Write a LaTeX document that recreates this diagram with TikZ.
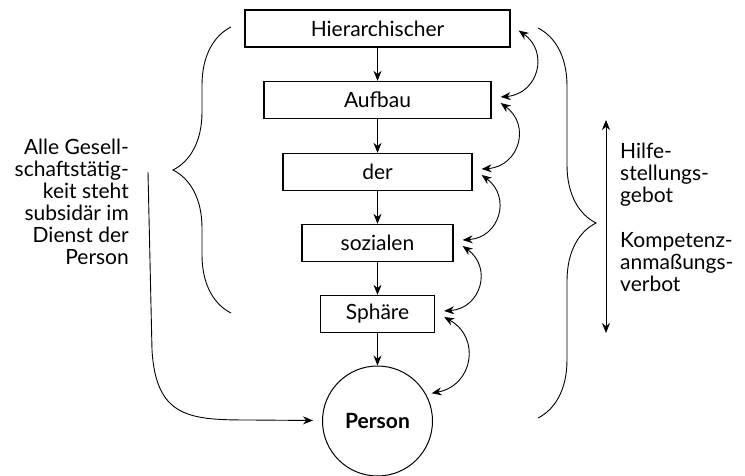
\documentclass[tikz,border=0pt]{standalone}
\usepackage{fontspec}
\setmainfont{Lato}
\usetikzlibrary{arrows.meta,decorations.pathreplacing}
\begin{document}
\begin{tikzpicture}[x=1pt,y=-1pt,>={Stealth[length=10pt,width=8pt]},
  stufe/.style={draw,line width=1.3pt,minimum height=37pt,inner sep=0pt,font=\fontsize{21}{22}\selectfont},
  pfeil/.style={->,line width=0.9pt},
  bezug/.style={<->,line width=0.9pt,bend left=70,looseness=1.4},
  klammer/.style={decorate,decoration={brace,amplitude=#1},line width=0.9pt},
  notiz/.style={font=\fontsize{21}{22}\selectfont,inner sep=0pt}]
\useasboundingbox (0,0) rectangle (745,476);
% Stufen
\node[stufe,minimum width=265pt] (hier) at (377.5,28.5) {Hierarchischer};
\node[stufe,minimum width=227pt] (aufbau) at (377.5,100) {Aufbau};
\node[stufe,minimum width=189pt] (der) at (377.5,172) {der};
\node[stufe,minimum width=151pt] (sozial) at (377.5,243) {sozialen};
\node[stufe,minimum width=114pt] (sphaere) at (377.5,314) {Sphäre};
\node[circle,draw,line width=1pt,minimum size=110pt,inner sep=0pt,font=\fontsize{21}{22}\selectfont\bfseries] (person) at (377.5,421) {Person};
\foreach \a/\b in {hier/aufbau,aufbau/der,der/sozial,sozial/sphaere,sphaere/person}
  \draw[pfeil] (\a) -- (\b);
% Wechselbezug
\draw[bezug] ([shift={(8,2)}]hier.east) to ([shift={(9,-3)}]aufbau.east);
\draw[bezug] ([shift={(9,3)}]aufbau.east) to ([shift={(9,-3)}]der.east);
\draw[bezug] ([shift={(9,3)}]der.east) to ([shift={(9,-3)}]sozial.east);
\draw[bezug] ([shift={(9,3)}]sozial.east) to ([shift={(9,-3)}]sphaere.east);
\draw[bezug] ([shift={(9,3)}]sphaere.east) to ([shift={(6,0)}]person.30);
% Klammern
\coordinate (rk1) at (538,28);
\coordinate (rk2) at (538,418);
\draw[klammer=58pt] (rk1) -- (rk2);
\coordinate (lk1) at (231,313);
\coordinate (lk2) at (231,27);
\draw[klammer=58pt] (lk1) -- (lk2);
\coordinate (ho) at (606,120);
\coordinate (hu) at (606,333);
\draw[<->,line width=0.9pt] (ho) -- (hu);
\coordinate (ls) at (148,172);
\draw[pfeil,shorten >=9pt] (ls) -- (152,350) .. controls (156,418) and (190,420) .. (250,420) -- (person);
% Texte
\node[notiz,anchor=north east,align=right] (links) at (129,139) {Alle Gesell-\\schaftstätig-\\keit steht\\subsidär im\\Dienst der\\Person};
\node[notiz,anchor=north west,align=left] (rechts) at (620,143) {Hilfe-\\stellungs-\\gebot\\[23pt]Kompetenz-\\anmaßungs-\\verbot};
\end{tikzpicture}
\end{document}
